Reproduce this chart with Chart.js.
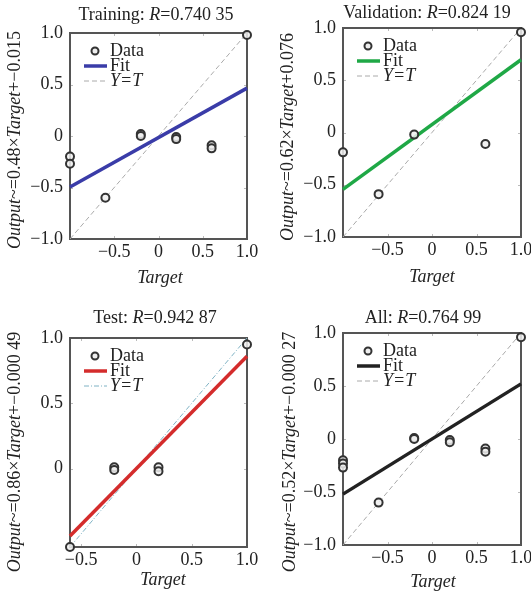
<!DOCTYPE html>
<html><head><meta charset="utf-8">
<script src="https://cdn.jsdelivr.net/npm/chart.js@4"></script>
<style>
html,body{margin:0;padding:0;background:#fff;}
#wrap{position:relative;width:531px;height:595px;overflow:hidden;background:#fff;}
.cell{position:absolute;}
</style></head><body>
<div id="wrap">
<div class="cell" style="left:0;top:0;width:265px;height:295px"><canvas id="c1"></canvas></div>
<div class="cell" style="left:265px;top:0;width:266px;height:295px"><canvas id="c2"></canvas></div>
<div class="cell" style="left:0;top:295px;width:265px;height:300px"><canvas id="c3"></canvas></div>
<div class="cell" style="left:265px;top:295px;width:266px;height:300px"><canvas id="c4"></canvas></div>
</div>
<script>
// ---- data ----
const trainTarget = [-1, -1, -0.6, -0.2, -0.2, 0.2, 0.2, 0.6, 0.6, 1];
const trainOutput = [-0.2, -0.27, -0.6, 0.02, 0.0, -0.01, -0.03, -0.09, -0.12, 0.98];
const trainFitX = [-1, 1];
const trainFitY = [-0.495, 0.465];

const validTarget = [-1, -0.6, -0.2, 0.6, 1];
const validOutput = [-0.19, -0.59, -0.02, -0.11, 0.96];
const validFitX = [-1, 1];
const validFitY = [-0.544, 0.696];

const testTarget = [-0.6, -0.2, -0.2, 0.2, 0.2, 1];
const testOutput = [-0.6, 0.01, -0.01, 0.01, -0.02, 0.95];
const testFitX = [-0.6, 1];
const testFitY = [-0.516, 0.86];

const allTarget = [-1, -1, -1, -0.6, -0.2, -0.2, 0.2, 0.2, 0.6, 0.6, 1];
const allOutput = [-0.2, -0.23, -0.27, -0.6, 0.01, 0.0, -0.01, -0.03, -0.09, -0.12, 0.96];
const allFitX = [-1, 1];
const allFitY = [-0.52, 0.52];

const identityFull = [-1, 1];
const identityTest = [-0.6, 1];

const xTicksMain = [-0.5, 0, 0.5, 1];
const yTicksMain = [-1, -0.5, 0, 0.5, 1];
const xTicksTest = [-0.5, 0, 0.5, 1];
const yTicksTest = [0, 0.5, 1];

const titleTrain = ['Training: ', 'R', '=0.740 35'];
const titleValid = ['Validation: ', 'R', '=0.824 19'];
const titleTest  = ['Test: ', 'R', '=0.942 87'];
const titleAll   = ['All: ', 'R', '=0.764 99'];
const yTitleTrain = ['Output', '~=0.48\u00d7', 'Target', '+\u22120.015'];
const yTitleValid = ['Output', '~=0.62\u00d7', 'Target', '+0.076'];
const yTitleTest  = ['Output', '~=0.86\u00d7', 'Target', '+\u22120.000 49'];
const yTitleAll   = ['Output', '~=0.52\u00d7', 'Target', '+\u22120.000 27'];
const legendLabels = ['Data', 'Fit', 'Y=T'];
const xTitle = 'Target';

// ---- drawing ----
const FONT = "'Liberation Serif','Times New Roman',serif";
function fmt(v){ if (Math.abs(v) < 1e-9) return '0'; return (v < 0 ? '\u2212' : '') + Math.abs(v).toFixed(1); }

function drawSegs(ctx, segs, cx, cy, size){
  // segs alternate upright/italic starting per flag
  let total = 0;
  const parts = segs.map(s => {
    ctx.font = (s.i ? 'italic ' : '') + size + 'px ' + FONT;
    const w = ctx.measureText(s.t).width; total += w; return {t:s.t, i:s.i, w};
  });
  let x = cx - total/2;
  ctx.textAlign = 'left'; ctx.textBaseline = 'middle';
  parts.forEach(p => { ctx.font = (p.i ? 'italic ' : '') + size + 'px ' + FONT; ctx.fillText(p.t, x, cy); x += p.w; });
}

function framePlugin(cfg){
  return {
    id: 'frame',
    beforeDatasetsDraw(chart){
      const {ctx, chartArea:a, scales} = chart;
      ctx.save();
      ctx.strokeStyle = '#bbb'; ctx.lineWidth = 1;
      cfg.xticks.forEach(v => { const px = Math.round(scales.x.getPixelForValue(v)) + 0.5;
        ctx.beginPath(); ctx.moveTo(px, a.bottom); ctx.lineTo(px, a.bottom - 3); ctx.moveTo(px, a.top); ctx.lineTo(px, a.top + 3); ctx.stroke(); });
      cfg.yticks.forEach(v => { const py = Math.round(scales.y.getPixelForValue(v)) + 0.5;
        ctx.beginPath(); ctx.moveTo(a.left, py); ctx.lineTo(a.left + 3, py); ctx.moveTo(a.right, py); ctx.lineTo(a.right - 3, py); ctx.stroke(); });
      ctx.strokeStyle = '#555'; ctx.lineWidth = 2;
      ctx.strokeRect(a.left, a.top, a.right - a.left, a.bottom - a.top);
      ctx.restore();
    },
    afterDatasetsDraw(chart){
      const {ctx, chartArea:a} = chart;
      ctx.save();
      const rows = [a.top + 18, a.top + 33, a.top + 48];
      const l0 = a.left + 14, l1 = a.left + 37, mx = a.left + 25, tx = a.left + 40;
      // Data marker
      ctx.beginPath(); ctx.arc(mx, rows[0], 3.5, 0, Math.PI*2);
      ctx.fillStyle = '#eee'; ctx.fill(); ctx.strokeStyle = '#333'; ctx.lineWidth = 2; ctx.stroke();
      // Fit
      ctx.beginPath(); ctx.moveTo(l0, rows[1]); ctx.lineTo(l1, rows[1]);
      ctx.strokeStyle = cfg.color; ctx.lineWidth = 3.5; ctx.stroke();
      // Y=T
      ctx.beginPath(); ctx.setLineDash(cfg.idDash); ctx.moveTo(l0, rows[2]); ctx.lineTo(l1, rows[2]);
      ctx.strokeStyle = cfg.idColor; ctx.lineWidth = 1; ctx.stroke(); ctx.setLineDash([]);
      ctx.fillStyle = '#222';
      ctx.textAlign = 'left'; ctx.textBaseline = 'middle';
      ctx.font = '18px ' + FONT; ctx.fillText(legendLabels[0], tx, rows[0]);
      ctx.fillText(legendLabels[1], tx, rows[1]);
      ctx.font = 'italic 18px ' + FONT; ctx.fillText(legendLabels[2], tx, rows[2]);
      ctx.restore();
    },
    afterDraw(chart){
      const {ctx} = chart;
      ctx.save(); ctx.fillStyle = '#222';
      drawSegs(ctx, [{t:cfg.title[0],i:false},{t:cfg.title[1],i:true},{t:cfg.title[2],i:false}], cfg.titlePos[0], cfg.titlePos[1], 18);
      ctx.font = 'italic 18px ' + FONT; ctx.textAlign = 'center'; ctx.textBaseline = 'middle';
      ctx.fillText(xTitle, cfg.xTitlePos[0], cfg.xTitlePos[1]);
      ctx.translate(cfg.yTitlePos[0], cfg.yTitlePos[1]); ctx.rotate(-Math.PI/2);
      drawSegs(ctx, [{t:cfg.yTitle[0],i:true},{t:cfg.yTitle[1],i:false},{t:cfg.yTitle[2],i:true},{t:cfg.yTitle[3],i:false}], 0, 0, 18);
      ctx.restore();
    }
  };
}

function makeChart(id, cfg){
  const pts = (xs, ys) => xs.map((x, i) => ({x, y: ys[i]}));
  return new Chart(document.getElementById(id), {
    type: 'scatter',
    data: { datasets: [
      { label: legendLabels[0], data: pts(cfg.target, cfg.output), showLine: false, clip: false,
        pointRadius: 4, pointBorderWidth: 2, pointBorderColor: '#333', pointBackgroundColor: 'rgba(238,238,238,0.85)' },
      { label: legendLabels[1], data: pts(cfg.fitX, cfg.fitY), showLine: true, clip: false,
        borderColor: cfg.color, borderWidth: 3.5, pointRadius: 0 },
      { label: legendLabels[2], data: pts(cfg.idXY, cfg.idXY), showLine: true, clip: false,
        borderColor: cfg.idColor, borderWidth: 1, borderDash: cfg.idDash, pointRadius: 0 }
    ]},
    options: {
      responsive: true, maintainAspectRatio: false, animation: false, devicePixelRatio: 1,
      layout: { padding: cfg.pad },
      plugins: { legend: {display: false}, tooltip: {enabled: false}, title: {display: false} },
      scales: {
        x: { type: 'linear', min: cfg.xmin, max: 1,
          afterBuildTicks: s => { s.ticks = cfg.xticks.map(v => ({value: v})); },
          afterFit: s => { s.height = 26; s.paddingLeft = 0; s.paddingRight = 0; },
          grid: {display: false, drawTicks: false}, border: {display: false},
          ticks: {padding: 2, autoSkip: false, maxRotation: 0, color: '#222', font: {family: FONT, size: 18}, callback: v => fmt(v)} },
        y: { type: 'linear', min: cfg.ymin, max: 1,
          afterBuildTicks: s => { s.ticks = cfg.yticks.map(v => ({value: v})); },
          afterFit: s => { s.width = 40; s.paddingTop = 0; s.paddingBottom = 0; },
          grid: {display: false, drawTicks: false}, border: {display: false},
          ticks: {padding: 7, autoSkip: false, color: '#222', font: {family: FONT, size: 18}, callback: v => fmt(v)} }
      }
    },
    plugins: [framePlugin(cfg)]
  });
}

makeChart('c1', { target: trainTarget, output: trainOutput, fitX: trainFitX, fitY: trainFitY, idXY: identityFull,
  color: '#3a3ca8', idColor: '#aaaaaa', idDash: [5,3], xmin: -1, ymin: -1, xticks: xTicksMain, yticks: yTicksMain,
  pad: {left: 30, right: 18, top: 33, bottom: 30},
  title: titleTrain, yTitle: yTitleTrain, titlePos: [156, 15], xTitlePos: [160, 278], yTitlePos: [15, 140] });

makeChart('c2', { target: validTarget, output: validOutput, fitX: validFitX, fitY: validFitY, idXY: identityFull,
  color: '#1fa846', idColor: '#aaaaaa', idDash: [5,3], xmin: -1, ymin: -1, xticks: xTicksMain, yticks: yTicksMain,
  pad: {left: 38, right: 10, top: 28, bottom: 32},
  title: titleValid, yTitle: yTitleValid, titlePos: [162, 13], xTitlePos: [167, 277], yTitlePos: [23, 137] });

makeChart('c3', { target: testTarget, output: testOutput, fitX: testFitX, fitY: testFitY, idXY: identityTest,
  color: '#d42c2c', idColor: '#7fb2c4', idDash: [5,2,1,2], xmin: -0.6, ymin: -0.6, xticks: xTicksTest, yticks: yTicksTest,
  pad: {left: 30, right: 18, top: 43, bottom: 22},
  title: titleTest, yTitle: yTitleTest, titlePos: [155, 23], xTitlePos: [163, 285], yTitlePos: [15, 157] });

makeChart('c4', { target: allTarget, output: allOutput, fitX: allFitX, fitY: allFitY, idXY: identityFull,
  color: '#222222', idColor: '#aaaaaa', idDash: [5,3], xmin: -1, ymin: -1, xticks: xTicksMain, yticks: yTicksMain,
  pad: {left: 38, right: 10, top: 38, bottom: 24},
  title: titleAll, yTitle: yTitleAll, titlePos: [158, 23], xTitlePos: [168, 287], yTitlePos: [25, 157] });
</script>
</body></html>
